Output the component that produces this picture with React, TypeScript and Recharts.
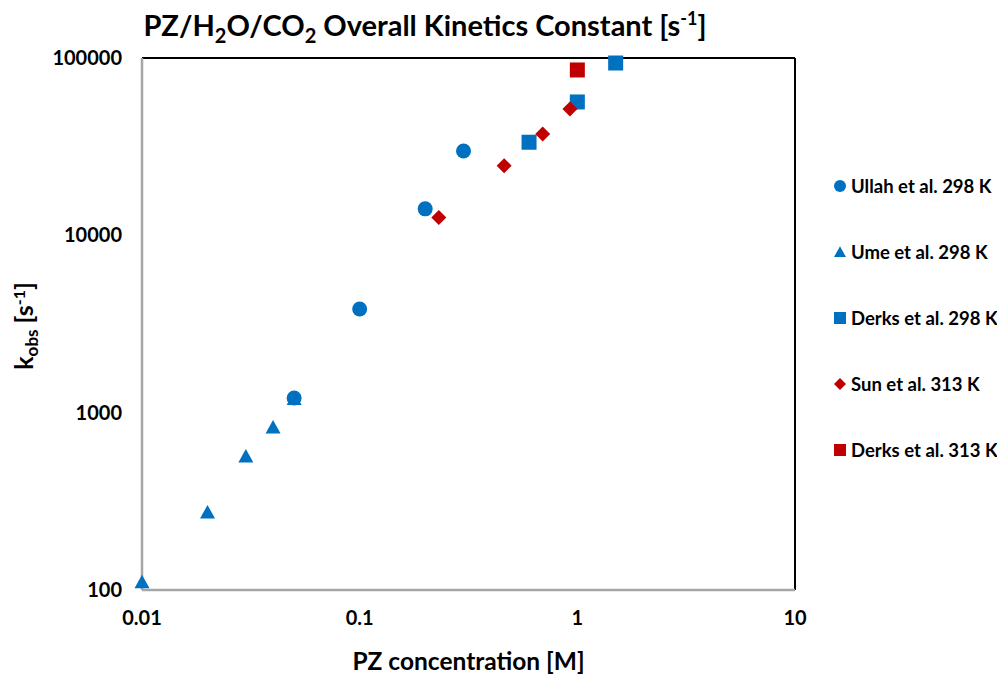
import React from 'react';
import { ScatterChart, Scatter, XAxis, YAxis, ReferenceLine, Label } from 'recharts';

const FONT = 'Lato, "Open Sans", sans-serif';
const BLUE = '#0070C0';
const RED = '#C00000';

const xTicks = [0.01, 0.1, 1, 10];
const yTicks = [100, 1000, 10000, 100000];

const ullahX = [0.05, 0.1, 0.2, 0.3];
const ullahY = [1210, 3840, 14100, 29900];
const umeX = [0.01, 0.02, 0.03, 0.04, 0.05];
const umeY = [111, 275, 569, 830, 1200];
const derks298X = [0.6, 1.0, 1.5];
const derks298Y = [33500, 56500, 93700];
const sunX = [0.231, 0.461, 0.693, 0.925];
const sunY = [12600, 24700, 37300, 51600];
const derks313X = [1.0];
const derks313Y = [85600];

const toPts = (xs: number[], ys: number[]) => xs.map((x, i) => ({ x, y: ys[i] }));

const ullah = toPts(ullahX, ullahY);
const ume = toPts(umeX, umeY);
const derks298 = toPts(derks298X, derks298Y);
const sun = toPts(sunX, sunY);
const derks313 = toPts(derks313X, derks313Y);

type Kind = 'circle' | 'triangle' | 'square' | 'diamond';

const markerPath = (kind: Kind, cx: number, cy: number, s: number, fill: string) => {
  const h = s / 2;
  if (kind === 'circle') return <circle cx={cx} cy={cy} r={h} fill={fill} />;
  if (kind === 'square') return <rect x={cx - h} y={cy - h} width={s} height={s} fill={fill} />;
  if (kind === 'diamond')
    return <polygon points={`${cx},${cy - h} ${cx + h},${cy} ${cx},${cy + h} ${cx - h},${cy}`} fill={fill} />;
  return <polygon points={`${cx},${cy - h * 0.95} ${cx + h},${cy + h * 0.85} ${cx - h},${cy + h * 0.85}`} fill={fill} />;
};

const makeShape = (kind: Kind, fill: string, s: number) => (props: any) => {
  const { cx, cy } = props;
  if (cx == null || cy == null) return <g />;
  return markerPath(kind, cx, cy, s, fill);
};

const legendItems: { name: string; kind: Kind; color: string }[] = [
  { name: 'Ullah et al. 298 K', kind: 'circle', color: BLUE },
  { name: 'Ume et al. 298 K', kind: 'triangle', color: BLUE },
  { name: 'Derks et al. 298 K', kind: 'square', color: BLUE },
  { name: 'Sun et al. 313 K', kind: 'diamond', color: RED },
  { name: 'Derks et al. 313 K', kind: 'square', color: RED },
];

const tickStyle = { fill: '#000', fontSize: 20, fontWeight: 700, fontFamily: FONT };

export default function App() {
  return (
    <div style={{ position: 'relative', width: 1000, height: 666, fontFamily: FONT }}>
      <div
        style={{
          position: 'absolute',
          left: 0,
          top: 1,
          width: 834,
          textAlign: 'center',
          fontSize: 29,
          fontWeight: 700,
          color: '#000',
          lineHeight: '32px',
        }}
      >
        PZ/H<sub style={{ fontSize: 20, verticalAlign: -7, lineHeight: 0 }}>2</sub>O/CO
        <sub style={{ fontSize: 20, verticalAlign: -7, lineHeight: 0 }}>2</sub> Overall Kinetics Constant [s
        <sup style={{ fontSize: 18, verticalAlign: 11, lineHeight: 0 }}>-1</sup>]
      </div>
      <ScatterChart width={1000} height={666} margin={{ top: 50, right: 213, bottom: 20, left: 0 }}>
        <XAxis
          type="number"
          dataKey="x"
          scale="log"
          domain={[0.01, 10]}
          ticks={xTicks}
          height={64}
          tickSize={0}
          tickMargin={21}
          tick={tickStyle}
          axisLine={{ stroke: '#A6A6A6', strokeWidth: 2.5 }}
          tickFormatter={(v: number) => String(v)}
        >
          <Label
            content={(p: any) => {
              const vb = p.viewBox || {};
              return (
                <text
                  x={vb.x + vb.width / 2}
                  y={662}
                  textAnchor="middle"
                  fontFamily={FONT}
                  fontWeight={700}
                  fontSize={24.5}
                  fill="#000"
                >
                  PZ concentration [M]
                </text>
              );
            }}
          />
        </XAxis>
        <YAxis
          type="number"
          dataKey="y"
          scale="log"
          domain={[100, 100000]}
          ticks={yTicks}
          width={134}
          tickSize={0}
          tickMargin={20}
          tick={tickStyle}
          axisLine={{ stroke: '#A6A6A6', strokeWidth: 2.5 }}
          tickFormatter={(v: number) => String(v)}
        >
          <Label
            content={(p: any) => {
              const vb = p.viewBox || {};
              const cy = vb.y + vb.height / 2 + 2;
              const x = 25;
              return (
                <text
                  x={x}
                  y={cy}
                  transform={`rotate(-90, ${x}, ${cy})`}
                  textAnchor="middle"
                  fontFamily={FONT}
                  fontWeight={700}
                  fontSize={25}
                  fill="#000"
                >
                  k<tspan fontSize={17} dy={5}>obs</tspan>
                  <tspan dy={-5}> [s</tspan>
                  <tspan fontSize={16} dy={-8}>-1</tspan>
                  <tspan dy={8}>]</tspan>
                </text>
              );
            }}
          />
        </YAxis>
        <ReferenceLine y={100000} stroke="#000" strokeWidth={2} />
        <ReferenceLine x={10} stroke="#000" strokeWidth={2} />
        <Scatter name="Ume et al. 298 K" data={ume} isAnimationActive={false} shape={makeShape('triangle', BLUE, 15)} />
        <Scatter name="Ullah et al. 298 K" data={ullah} isAnimationActive={false} shape={makeShape('circle', BLUE, 15)} />
        <Scatter name="Derks et al. 298 K" data={derks298} isAnimationActive={false} shape={makeShape('square', BLUE, 15)} />
        <Scatter name="Sun et al. 313 K" data={sun} isAnimationActive={false} shape={makeShape('diamond', RED, 15)} />
        <Scatter name="Derks et al. 313 K" data={derks313} isAnimationActive={false} shape={makeShape('square', RED, 15)} />
      </ScatterChart>
      <div style={{ position: 'absolute', left: 825, top: 167 }}>
        {legendItems.map((it) => (
          <div key={it.name} style={{ height: 66, display: 'flex', alignItems: 'flex-start' }}>
            <div style={{ display: 'flex', alignItems: 'center', height: 22 }}>
              <svg width={14} height={14} style={{ marginRight: 4 }}>
                {markerPath(it.kind, 7, 7, 12, it.color)}
              </svg>
              <span style={{ fontSize: 18.5, fontWeight: 700, color: '#000', whiteSpace: 'nowrap' }}>{it.name}</span>
            </div>
          </div>
        ))}
      </div>
    </div>
  );
}
